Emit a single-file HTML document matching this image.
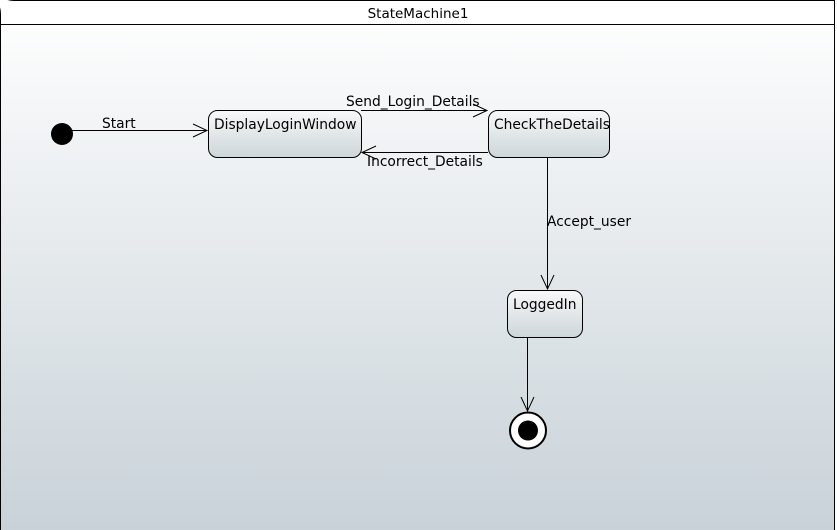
<!DOCTYPE html>
<html><head><style>
html,body{margin:0;padding:0;background:#fff;}
svg{display:block;font-family:"DejaVu Sans","Liberation Sans",sans-serif;}
</style></head><body>
<svg width="837" height="530" viewBox="0 0 837 530" xmlns="http://www.w3.org/2000/svg">
<defs>
<linearGradient id="bg" x1="0" y1="0" x2="0" y2="1">
<stop offset="0" stop-color="#ffffff"/><stop offset="1" stop-color="#c8d2d8"/>
</linearGradient>
<linearGradient id="st" x1="0" y1="0" x2="0" y2="1">
<stop offset="0" stop-color="#f7f9f9"/><stop offset="1" stop-color="#cdd6da"/>
</linearGradient>
</defs>
<path d="M0.5,530 L0.5,14 Q0.5,0.5 14,0.5 L834.5,0.5 L834.5,530" fill="url(#bg)" stroke="#000"/>
<rect x="1" y="1" width="833" height="23" fill="#fff"/>
<line x1="0" y1="24.5" x2="835" y2="24.5" stroke="#000"/>
<text x="418" y="18" font-size="13.5" text-anchor="middle">StateMachine1</text>
<g stroke="#000" fill="none">
<line x1="62" y1="130.5" x2="207" y2="130.5"/><polyline points="193,124 207,130.5 193,137"/>
<line x1="361" y1="110.5" x2="487" y2="110.5"/><polyline points="473,104 487,110.5 473,117"/>
<line x1="488" y1="152.5" x2="362" y2="152.5"/><polyline points="376,146 362,152.5 376,159"/>
<line x1="547.5" y1="158" x2="547.5" y2="289"/><polyline points="541,275 547.5,289 554,275"/>
<line x1="527.5" y1="338" x2="527.5" y2="411"/><polyline points="521,397 527.5,411 534,397"/>
</g>
<circle cx="62" cy="134" r="11" fill="#000"/>
<rect x="208.5" y="110.5" width="153" height="47" rx="9" fill="url(#st)" stroke="#000"/>
<rect x="488.5" y="110.5" width="121" height="47" rx="9" fill="url(#st)" stroke="#000"/>
<rect x="507.5" y="290.5" width="75" height="47" rx="9" fill="url(#st)" stroke="#000"/>
<circle cx="528" cy="430.5" r="18" fill="#fff" stroke="#000" stroke-width="2"/>
<circle cx="528" cy="430.5" r="10" fill="#000"/>
<g font-size="13.8" fill="#000">
<text x="214" y="129">DisplayLoginWindow</text>
<text x="494" y="129">CheckTheDetails</text>
<text x="513" y="309">LoggedIn</text>
<text x="102" y="128">Start</text>
<text x="346" y="106">Send_Login_Details</text>
<text x="367" y="166">Incorrect_Details</text>
<text x="547" y="226">Accept_user</text>
</g>
</svg>
</body></html>
